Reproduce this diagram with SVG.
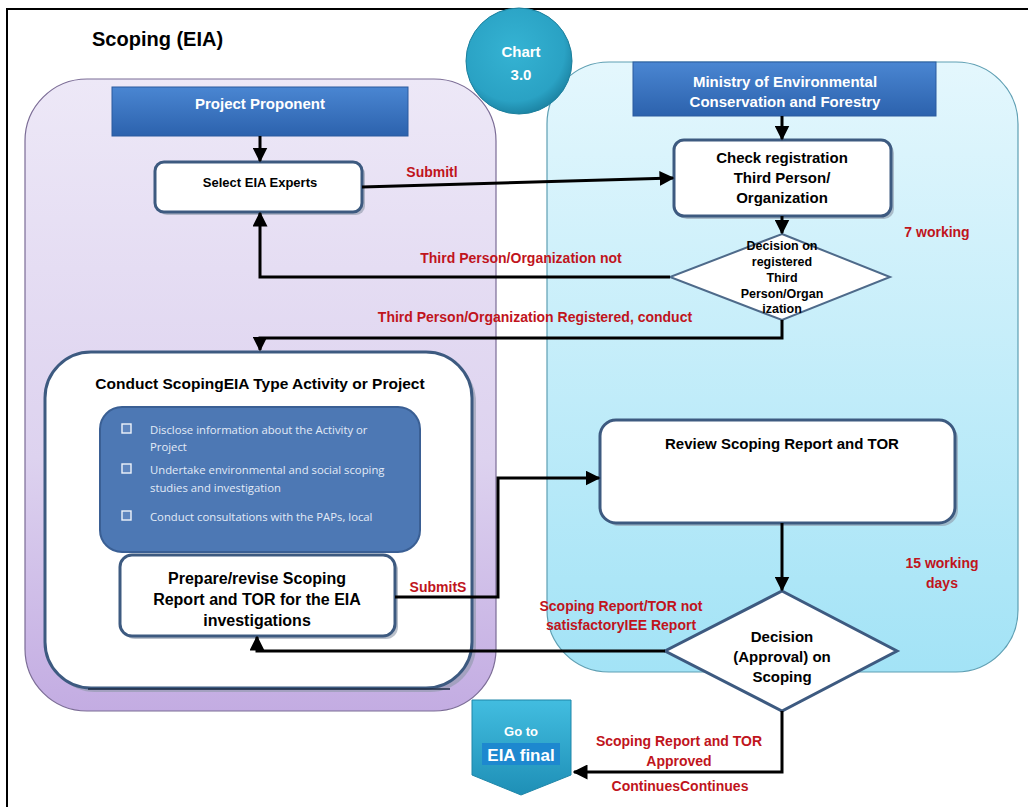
<svg xmlns="http://www.w3.org/2000/svg" width="1028" height="807" viewBox="0 0 1028 807">
<defs>
<linearGradient id="gPurple" x1="0" y1="0" x2="0" y2="1"><stop offset="0" stop-color="#ede8f7"/><stop offset="0.6" stop-color="#ddd2ef"/><stop offset="1" stop-color="#c3ace2"/></linearGradient>
<linearGradient id="gBlue" x1="0" y1="0" x2="0" y2="1"><stop offset="0" stop-color="#e4f7fd"/><stop offset="1" stop-color="#a3e3f6"/></linearGradient>
<linearGradient id="gHead" x1="0" y1="0" x2="0" y2="1"><stop offset="0" stop-color="#4a86d2"/><stop offset="1" stop-color="#2c62ad"/></linearGradient>
<radialGradient id="gCircle" cx="0.45" cy="0.4" r="0.6"><stop offset="0" stop-color="#35b3d3"/><stop offset="0.8" stop-color="#2aa2c4"/><stop offset="1" stop-color="#1d86a6"/></radialGradient>
<linearGradient id="gGo" x1="0" y1="0" x2="0" y2="1"><stop offset="0" stop-color="#42bde0"/><stop offset="1" stop-color="#1e8fb6"/></linearGradient>
<marker id="ah" viewBox="0 0 10 10" refX="9" refY="5" markerWidth="5" markerHeight="5" orient="auto-start-reverse"><path d="M0,0 L10,5 L0,10 z" fill="#000"/></marker>
</defs>
<style>
.lbl{font-family:"Liberation Sans",Arial,sans-serif;font-weight:bold;fill:#c0141c;font-size:14px;text-anchor:middle}
.bt{font-family:"Liberation Sans",Arial,sans-serif;font-weight:bold;fill:#000;text-anchor:middle}
.wt{font-family:"Liberation Sans",Arial,sans-serif;font-weight:bold;fill:#fff;text-anchor:middle}
.box{fill:#fff;stroke:#3d5a80;stroke-width:3}
.shadow{fill:#8e97a8;opacity:0.6}
.con{fill:none;stroke:#000;stroke-width:3;marker-end:url(#ah)}
.bul{font-family:"Open Sans","Liberation Sans",sans-serif;fill:#e3ebf7;font-size:11.3px}
.chk{fill:#5f86bf;stroke:#eef3fa;stroke-width:1.4}
</style>
<rect x="0" y="0" width="1028" height="807" fill="#fff"/>
<rect x="7" y="9" width="1030" height="820" fill="none" stroke="#000" stroke-width="2"/>
<text x="92" y="46" font-family="Liberation Sans,Arial,sans-serif" font-weight="bold" font-size="20" fill="#000">Scoping (EIA)</text>

<g id="lane-proponent">
<rect x="25" y="79" width="471" height="632" rx="62" fill="url(#gPurple)" stroke="#7b6c96" stroke-width="1.2"/>
</g>
<g id="lane-ministry">
<rect x="547" y="62" width="471" height="610" rx="62" fill="url(#gBlue)" stroke="#5e9fb3" stroke-width="1.2"/>
</g>
<g id="chart-badge">
<circle cx="519" cy="61" r="53" fill="url(#gCircle)" stroke="#1c7f9c" stroke-width="1"/>
<text class="wt" x="521" y="57" font-size="15" fill="#e8f6fb">Chart</text>
<text class="wt" x="521" y="80" font-size="15" fill="#e8f6fb">3.0</text>
</g>
<g id="hdr-proponent">
<rect x="112" y="87" width="296" height="49" fill="url(#gHead)" stroke="#2a5b9e" stroke-width="1"/>
<text class="wt" x="260" y="109" font-size="15" fill="#e6eefa">Project Proponent</text>
</g>
<g id="hdr-ministry">
<rect x="633" y="62" width="303" height="54" fill="url(#gHead)" stroke="#2a5b9e" stroke-width="1"/>
<text class="wt" x="785" y="87" font-size="15" fill="#e6eefa">Ministry of Environmental</text>
<text class="wt" x="785" y="107" font-size="15" fill="#e6eefa">Conservation and Forestry</text>
</g>

<g id="node-select">
<rect class="shadow" x="158" y="165" width="207" height="50" rx="9"/>
<rect class="box" x="155" y="162" width="207" height="50" rx="9"/>
<text class="bt" x="260" y="187" font-size="13">Select EIA Experts</text>
</g>
<g id="node-check">
<rect class="shadow" x="677" y="143" width="217" height="76" rx="10"/>
<rect class="box" x="674" y="140" width="217" height="76" rx="10"/>
<text class="bt" x="782" y="163" font-size="15">Check registration</text>
<text class="bt" x="782" y="183" font-size="15">Third Person/</text>
<text class="bt" x="782" y="203" font-size="15">Organization</text>
</g>
<g id="node-decision1">
<polygon points="782,234 890,277 782,320 670,277" fill="#fff" stroke="#4e6a8a" stroke-width="2"/>
<g class="bt" font-size="12.5" fill="#222">
<text x="782" y="250">Decision on</text>
<text x="782" y="266">registered</text>
<text x="782" y="282">Third</text>
<text x="782" y="298">Person/Organ</text>
<text x="782" y="313">ization</text>
</g>
</g>
<g id="node-conduct">
<rect class="shadow" x="49" y="356" width="427" height="336" rx="46"/>
<rect class="box" x="45" y="352" width="427" height="336" rx="46"/>
<line x1="88" y1="689" x2="450" y2="689" stroke="#1e2c44" stroke-width="1.5"/>
<text class="bt" x="260" y="389" font-size="15.5">Conduct ScopingEIA Type Activity or Project</text>
<rect x="100" y="407" width="320" height="145" rx="22" fill="#4d78b4" stroke="#3a5f94" stroke-width="2"/>
<rect class="chk" x="122" y="424" width="9" height="9"/>
<text class="bul" x="150" y="434">Disclose information about the Activity or</text>
<text class="bul" x="150" y="451">Project</text>
<rect class="chk" x="122" y="464" width="9" height="9"/>
<text class="bul" x="150" y="474">Undertake environmental and social scoping</text>
<text class="bul" x="150" y="492">studies and investigation</text>
<rect class="chk" x="122" y="511" width="9" height="9"/>
<text class="bul" x="150" y="521">Conduct consultations with the PAPs, local</text>
</g>
<g id="node-prepare">
<rect class="shadow" x="123" y="558" width="275" height="81" rx="12"/>
<rect class="box" x="120" y="555" width="275" height="81" rx="12"/>
<text class="bt" x="257" y="584" font-size="16">Prepare/revise Scoping</text>
<text class="bt" x="257" y="605" font-size="16">Report and TOR for the EIA</text>
<text class="bt" x="257" y="626" font-size="16">investigations</text>
</g>
<g id="node-review">
<rect class="shadow" x="603" y="423" width="355" height="103" rx="16"/>
<rect class="box" x="600" y="420" width="355" height="103" rx="16"/>
<text class="bt" x="782" y="449" font-size="15">Review Scoping Report and TOR</text>
</g>
<g id="node-decision2">
<polygon points="782,591 897,651 782,711 665,651" fill="#fff" stroke="#3d5a80" stroke-width="3"/>
<text class="bt" x="782" y="642" font-size="15">Decision</text>
<text class="bt" x="782" y="662" font-size="15">(Approval) on</text>
<text class="bt" x="782" y="682" font-size="15">Scoping</text>
</g>
<g id="node-goto">
<polygon points="472,700 571,700 571,775 521,795 472,775" fill="url(#gGo)" stroke="#1f86a8" stroke-width="1"/>
<text class="wt" x="521" y="736" font-size="13" fill="#e6f6fc">Go to</text>
<rect x="482" y="743" width="78" height="22" fill="#1d88cf"/>
<text class="wt" x="521" y="761" font-size="17">EIA final</text>
</g>

<g id="connectors">
<line class="con" x1="260" y1="136" x2="260" y2="161"/>
<line class="con" x1="782" y1="116" x2="782" y2="139"/>
<line class="con" x1="362" y1="187" x2="673" y2="178"/>
<line class="con" x1="782" y1="216" x2="782" y2="233"/>
<polyline class="con" points="670,277 260,277 260,213"/>
<polyline class="con" points="782,320 782,338 260,338 260,350"/>
<polyline class="con" points="395,597 498,597 498,478 599,478"/>
<line class="con" x1="782" y1="523" x2="782" y2="590"/>
<polyline class="con" points="665,651 257,651 257,637"/>
<polyline class="con" points="782,711 782,772 574,772"/>
</g>

<g id="labels">
<text class="lbl" x="432" y="177">Submitl</text>
<text class="lbl" x="521" y="263">Third Person/Organization not</text>
<text class="lbl" x="535" y="322">Third Person/Organization Registered, conduct</text>
<text class="lbl" x="937" y="237">7 working</text>
<text class="lbl" x="438" y="592">SubmitS</text>
<text class="lbl" x="942" y="568">15 working</text>
<text class="lbl" x="942" y="588">days</text>
<text class="lbl" x="621" y="611">Scoping Report/TOR not</text>
<text class="lbl" x="621" y="630">satisfactoryIEE Report</text>
<text class="lbl" x="679" y="746">Scoping Report and TOR</text>
<text class="lbl" x="679" y="766">Approved</text>
<text class="lbl" x="680" y="791">ContinuesContinues</text>
</g>
</svg>
